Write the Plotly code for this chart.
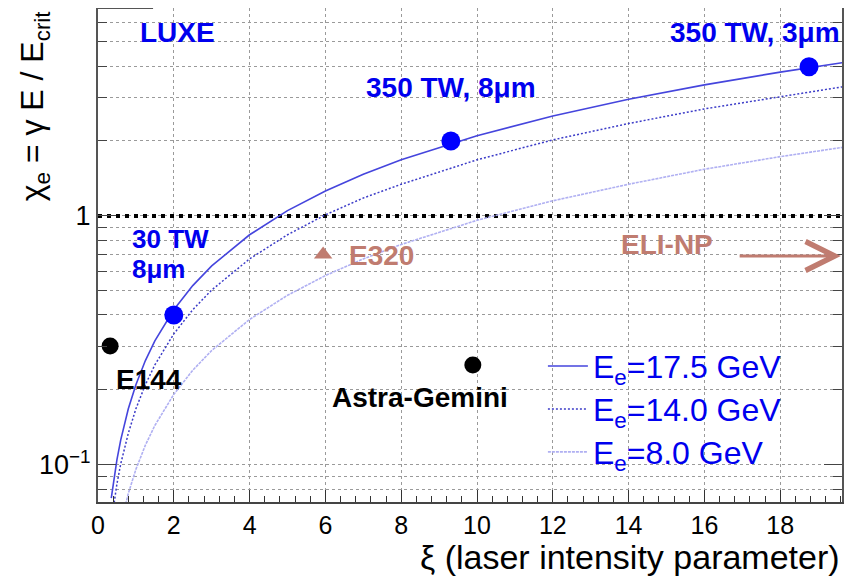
import plotly.graph_objects as go

# ---------------- data ----------------
xi_curve = [0.35, 0.4, 0.45, 0.5, 0.6, 0.7, 0.8, 1.0, 1.25, 1.5, 2, 2.5, 3, 4, 5, 6, 7, 8,
            10, 12, 14, 16, 18, 19.7]
chi_175 = [0.0735, 0.084, 0.0945, 0.105, 0.126, 0.147, 0.168, 0.21, 0.2625, 0.315, 0.42, 0.525,
           0.63, 0.84, 1.05, 1.26, 1.47, 1.68, 2.1, 2.52, 2.94, 3.36, 3.78, 4.14]
chi_140 = [0.0588, 0.0672, 0.0756, 0.084, 0.101, 0.118, 0.134, 0.168, 0.21, 0.252, 0.336, 0.42,
           0.504, 0.672, 0.84, 1.01, 1.18, 1.34, 1.68, 2.02, 2.35, 2.69, 3.02, 3.31]
chi_80 = [0.0336, 0.0384, 0.0432, 0.048, 0.0576, 0.0672, 0.0768, 0.096, 0.12, 0.144, 0.192, 0.24,
          0.288, 0.384, 0.48, 0.576, 0.672, 0.768, 0.96, 1.15, 1.34, 1.54, 1.73, 1.89]
curve_names = ["E<sub>e</sub>=17.5 GeV", "E<sub>e</sub>=14.0 GeV", "E<sub>e</sub>=8.0 GeV"]

luxe_xi = [2.0, 9.31, 18.76]
luxe_chi = [0.40, 2.0, 3.97]
other_xi = [0.32, 9.89]
other_chi = [0.30, 0.252]
e320_xi = [5.94]
e320_chi = [0.70]
unity_x = [0.0, 19.63]
unity_y = [1.0, 1.0]

x_ticks = [0, 2, 4, 6, 8, 10, 12, 14, 16, 18]
y_major = [0.1, 1]
y_major_text = ["10<sup>\u22121</sup>", "1"]
y_minor = [0.08, 0.09, 0.2, 0.3, 0.4, 0.5, 0.6, 0.7, 0.8, 0.9, 2, 3, 4, 5, 6]

BLUE = "#0000ee"
BROWN = "#c07c70"
FONT = "Liberation Sans, Arial, sans-serif"

fig = go.Figure()

# unity line
fig.add_trace(go.Scatter(x=unity_x, y=unity_y, mode="lines", showlegend=False,
                         line=dict(color="black", width=4, dash="4px,5px"), hoverinfo="skip"))

# curves
fig.add_trace(go.Scatter(x=xi_curve, y=chi_175, mode="lines", name=curve_names[0],
                         line=dict(color="#4545dd", width=1.6), legend="legend"))
fig.add_trace(go.Scatter(x=xi_curve, y=chi_140, mode="lines", name=curve_names[1],
                         line=dict(color="#3c3cc8", width=1.5, dash="2px,2px"), legend="legend2"))
fig.add_trace(go.Scatter(x=xi_curve, y=chi_80, mode="lines", name=curve_names[2],
                         line=dict(color="#b0b0f2", width=1.6, dash="3px,1px"), legend="legend3"))

# markers
fig.add_trace(go.Scatter(x=luxe_xi, y=luxe_chi, mode="markers", showlegend=False,
                         marker=dict(color="#0000ff", size=19, symbol="circle")))
fig.add_trace(go.Scatter(x=other_xi, y=other_chi, mode="markers", showlegend=False,
                         marker=dict(color="black", size=17, symbol="circle")))
fig.add_trace(go.Scatter(x=e320_xi, y=e320_chi, mode="markers", showlegend=False,
                         marker=dict(color=BROWN, size=16, symbol="triangle-up")))

def label(text, x, ylog, color, xanchor="center", size=28):
    fig.add_annotation(x=x, y=ylog, xref="x", yref="y", text="<b>%s</b>" % text, showarrow=False,
                       xanchor=xanchor, yanchor="middle",
                       font=dict(family=FONT, size=size, color=color))

label("LUXE", 2.11, 0.735, BLUE)
label("350 TW, 3\u03bcm", 19.63, 0.735, BLUE, xanchor="right")
label("350 TW, 8\u03bcm", 9.31, 0.514, BLUE)
label("30 TW", 0.84, -0.094, BLUE, xanchor="left", size=26)
label("8\u03bcm", 0.84, -0.214, BLUE, xanchor="left", size=26)
label("E320", 6.57, -0.157, BROWN, xanchor="left")
label("ELI-NP", 15.0, -0.116, BROWN)
label("E144", 1.35, -0.655, "black")
label("Astra-Gemini", 8.5, -0.731, "black")

# ELI-NP arrow
fig.add_annotation(x=19.6, y=-0.161, ax=16.89, ay=-0.161, xref="x", yref="y", axref="x", ayref="y",
                   text="", showarrow=True, arrowhead=5, arrowsize=1.9, arrowwidth=3,
                   arrowcolor=BROWN)

# axis titles
fig.add_annotation(x=1.0, y=-0.112, xref="paper", yref="paper", xanchor="right", yanchor="middle",
                   text="\u03be (laser intensity parameter)", showarrow=False,
                   font=dict(family=FONT, size=34, color="black"))
fig.add_annotation(x=-0.085, y=1.0, xref="paper", yref="paper", xanchor="center", yanchor="top",
                   text="\u03c7<sub>e</sub> = \u03b3 E / E<sub>crit</sub>", showarrow=False, textangle=-90,
                   font=dict(family=FONT, size=32, color="black"))

# partial top frame segment
fig.add_shape(type="line", xref="paper", yref="paper", x0=0, x1=0.074, y0=1, y1=1,
              line=dict(color="#555555", width=2))

GRID = "#9a9a9a"
fig.update_xaxes(range=[0, 19.63], tickmode="array", tickvals=x_ticks, automargin=False,
                 ticks="inside", ticklen=12, tickcolor="#333", tickwidth=1,
                 showline=True, linecolor="#444", linewidth=2, mirror=False,
                 showgrid=True, gridcolor=GRID, griddash="dot", gridwidth=1,
                 zeroline=False, tickfont=dict(family=FONT, size=25, color="black"),
                 minor=dict(dtick=0.4, tick0=0, ticks="inside", ticklen=6, tickcolor="#333",
                            showgrid=False))
fig.update_yaxes(type="log", range=[-1.149, 0.835], tickmode="array", tickvals=y_major,
                 ticktext=y_major_text, ticks="inside", ticklen=18, tickcolor="#444",
                 automargin=False,
                 showline=True, linecolor="#555", linewidth=2, mirror="ticks",
                 showgrid=True, gridcolor=GRID, griddash="dot", gridwidth=1,
                 zeroline=False, tickfont=dict(family=FONT, size=27, color="black"),
                 minor=dict(tickmode="array", tickvals=y_minor, ticks="inside", ticklen=9,
                            tickcolor="#444", showgrid=True, gridcolor=GRID, griddash="dot",
                            gridwidth=1))

leg_common = dict(x=0.598, xanchor="left", yanchor="middle", bgcolor="rgba(0,0,0,0)",
                  font=dict(family=FONT, size=32, color=BLUE), itemwidth=40)
fig.update_layout(
    width=848, height=571,
    margin=dict(l=90, r=14, t=0, b=77),
    paper_bgcolor="white", plot_bgcolor="white",
    legend=dict(y=0.275, **leg_common),
    legend2=dict(y=0.188, **leg_common),
    legend3=dict(y=0.101, **leg_common),
    font=dict(family=FONT),
)

fig.write_html("out.html")
